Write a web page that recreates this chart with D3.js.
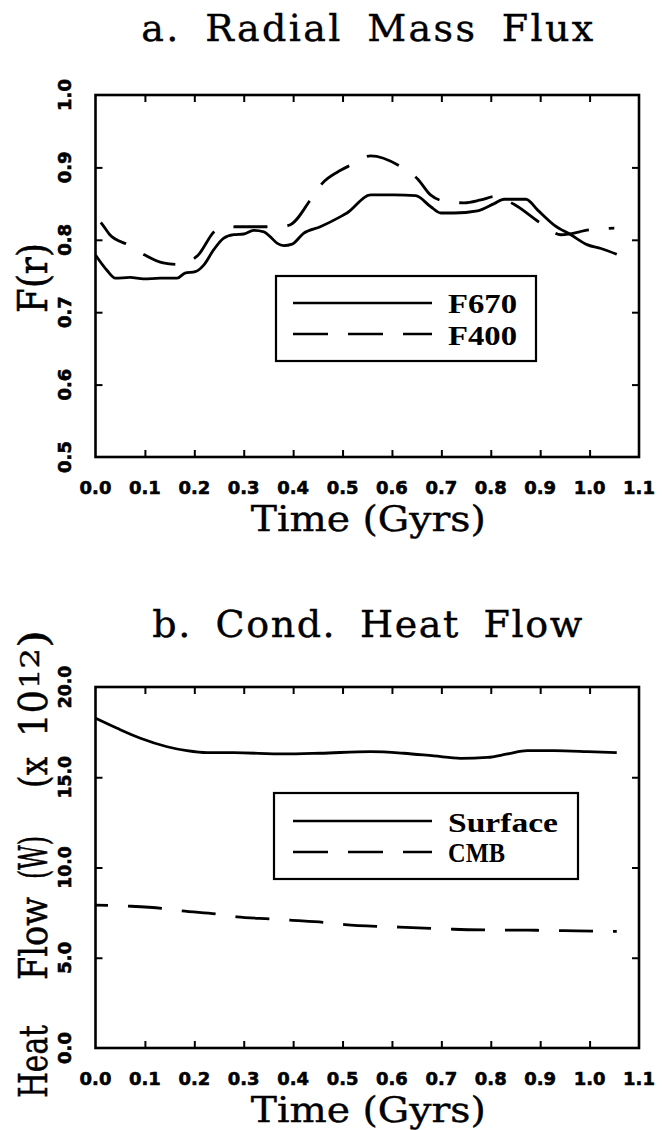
<!DOCTYPE html>
<html><head><meta charset="utf-8">
<script src="https://cdn.jsdelivr.net/npm/d3@7"></script>
<style>
html,body{margin:0;padding:0;background:#fff;}
svg{display:block;}
</style></head>
<body>
<svg id="chart" width="666" height="1130"></svg>
<script>
// ---------- data ----------
const xTicks = [0.0,0.1,0.2,0.3,0.4,0.5,0.6,0.7,0.8,0.9,1.0,1.1];
const xTickLabels = ["0.0","0.1","0.2","0.3","0.4","0.5","0.6","0.7","0.8","0.9","1.0","1.1"];
const yTicksA = [0.5,0.6,0.7,0.8,0.9,1.0];
const yTickLabelsA = ["0.5","0.6","0.7","0.8","0.9","1.0"];
const yTicksB = [0,5,10,15,20];
const yTickLabelsB = ["0.0","5.0","10.0","15.0","20.0"];

const f670Time = [0,0.023,0.04,0.07,0.097,0.131,0.165,0.181,0.202,0.219,0.239,0.259,0.28,0.30,0.32,0.341,0.354,0.368,0.381,0.398,0.421,0.455,0.496,0.509,0.557,0.604,0.648,0.678,0.699,0.726,0.773,0.807,0.827,0.871,0.895,0.929,0.962,0.996,1.023,1.055];
const f670Vals = [0.779,0.758,0.747,0.748,0.746,0.747,0.747,0.754,0.756,0.765,0.786,0.802,0.807,0.808,0.813,0.811,0.804,0.795,0.792,0.794,0.809,0.818,0.832,0.837,0.862,0.862,0.861,0.846,0.837,0.837,0.840,0.850,0.856,0.856,0.841,0.820,0.807,0.793,0.788,0.780];

const f400Time = [0,0.013,0.029,0.066,0.1,0.137,0.165,0.205,0.246,0.283,0.351,0.391,0.435,0.459,0.496,0.516,0.557,0.618,0.652,0.678,0.702,0.746,0.78,0.81,0.847,0.901,0.942,1.003,1.05];
const f400Vals = [0.832,0.822,0.807,0.793,0.779,0.768,0.766,0.777,0.814,0.818,0.818,0.820,0.855,0.878,0.896,0.903,0.916,0.901,0.884,0.862,0.854,0.851,0.855,0.860,0.849,0.823,0.807,0.814,0.816];

const surfTime = [0,0.044,0.091,0.145,0.185,0.226,0.28,0.381,0.455,0.557,0.624,0.685,0.739,0.793,0.834,0.874,0.928,0.996,1.055];
const surfVals = [18.27,17.71,17.16,16.69,16.47,16.36,16.36,16.29,16.33,16.42,16.33,16.18,16.05,16.10,16.29,16.47,16.47,16.42,16.36];

const cmbTime = [0,0.066,0.134,0.175,0.246,0.286,0.355,0.394,0.463,0.505,0.570,0.615,0.681,0.725,0.793,0.836,0.904,0.948,1.013,1.055];
const cmbVals = [7.92,7.86,7.74,7.60,7.42,7.27,7.15,7.08,6.96,6.84,6.74,6.70,6.63,6.58,6.54,6.53,6.52,6.50,6.47,6.46];

const legendA = ["F670","F400"];
const legendB = ["Surface","CMB"];

// ---------- layout ----------
const svg = d3.select("#chart");
const X0 = 95.5, X1 = 639;
const x = d3.scaleLinear().domain([0,1.1]).range([X0,X1]);
const yA = d3.scaleLinear().domain([0.5,1.0]).range([457,95]);
const yB = d3.scaleLinear().domain([0,20]).range([1048,687]);

const serif = "'DejaVu Serif', serif";
const boldSerif = "'Liberation Serif', serif";
const tickFont = "'DejaVu Sans', sans-serif";

function panel(y, yTicks, yLabels, opts) {
  const g = svg.append("g");
  const top = y.range()[1], bot = y.range()[0];
  const inner = yTicks.slice(1,-1);
  const xin = xTicks.slice(1,-1);
  const axB = g.append("g").attr("transform",`translate(0,${bot})`)
    .call(d3.axisBottom(x).tickValues(xin).tickSize(-7).tickSizeOuter(0).tickFormat(""));
  const axT = g.append("g").attr("transform",`translate(0,${top})`)
    .call(d3.axisTop(x).tickValues(xin).tickSize(-7).tickSizeOuter(0).tickFormat(""));
  const axL = g.append("g").attr("transform",`translate(${X0},0)`)
    .call(d3.axisLeft(y).tickValues(inner).tickSize(-7).tickSizeOuter(0).tickFormat(""));
  const axR = g.append("g").attr("transform",`translate(${X1},0)`)
    .call(d3.axisRight(y).tickValues(inner).tickSize(-7).tickSizeOuter(0).tickFormat(""));
  [axB,axT,axL,axR].forEach(a=>{
    a.select(".domain").remove();
    a.selectAll(".tick line").attr("stroke","#000").attr("stroke-width",2);
  });
  g.append("rect").attr("x",X0).attr("y",top).attr("width",X1-X0).attr("height",bot-top)
    .attr("fill","none").attr("stroke","#000").attr("stroke-width",2.6);

  g.selectAll(".xtl").data(xTicks).join("text")
    .attr("x",d=>x(d)).attr("y",bot+37)
    .attr("text-anchor","middle")
    .attr("textLength",(d,i)=>xTickLabels[i].length*10.6)
    .attr("lengthAdjust","spacingAndGlyphs")
    .style("font-family",tickFont).style("font-weight","bold").style("font-size","18px")
    .attr("stroke","#000").attr("stroke-width",0.6)
    .text((d,i)=>xTickLabels[i]);
  g.selectAll(".ytl").data(yTicks).join("text")
    .attr("transform",d=>`translate(71,${y(d)}) rotate(-90)`)
    .attr("text-anchor","middle")
    .attr("textLength",(d,i)=>yLabels[i].length*10.6)
    .attr("lengthAdjust","spacingAndGlyphs")
    .style("font-family",tickFont).style("font-weight","bold").style("font-size","18px")
    .attr("stroke","#000").attr("stroke-width",0.6)
    .text((d,i)=>yLabels[i]);
  g.append("text").attr("x",(X0+X1)/2).attr("y",opts.titleY)
    .attr("text-anchor","middle")
    .attr("textLength",opts.titleLen).attr("lengthAdjust","spacing")
    .style("font-family",serif).style("font-size","38px").style("word-spacing","10px")
    .attr("stroke","#000").attr("stroke-width",0.4)
    .text(opts.title);
  g.append("text").attr("x",(X0+X1)/2+1).attr("y",bot+74)
    .attr("text-anchor","middle")
    .attr("textLength",235).attr("lengthAdjust","spacingAndGlyphs")
    .style("font-family",serif).style("font-size","36px")
    .attr("stroke","#000").attr("stroke-width",0.4)
    .text("Time (Gyrs)");
  return g;
}

const gA = panel(yA, yTicksA, yTickLabelsA, {title:"a. Radial Mass Flux", titleY:41, titleLen:452});
const gB = panel(yB, yTicksB, yTickLabelsB, {title:"b. Cond. Heat Flow", titleY:637, titleLen:430});

gA.append("text").attr("transform","translate(47,313) rotate(-90)")
  .attr("textLength",70).attr("lengthAdjust","spacingAndGlyphs")
  .style("font-family",serif).style("font-size","41px")
  .attr("stroke","#000").attr("stroke-width",0.5)
  .text("F(r)");

const yLabB = [
  {t:"Heat", y0:1098, len:73},
  {t:"Flow", y0:980, len:83},
  {t:"(W)", y0:879, len:43},
  {t:"(x", y0:788, len:31},
  {t:"10", y0:737, len:47}
];
yLabB.forEach(w=>{
  gB.append("text").attr("transform",`translate(47,${w.y0}) rotate(-90)`)
    .attr("textLength",w.len).attr("lengthAdjust","spacingAndGlyphs")
    .style("font-family",serif).style("font-size","40px")
    .attr("stroke","#000").attr("stroke-width",0.5)
    .text(w.t);
});
gB.append("text").attr("transform","translate(39,689) rotate(-90)")
  .attr("textLength",41).attr("lengthAdjust","spacingAndGlyphs")
  .style("font-family",serif).style("font-size","26px")
  .attr("stroke","#000").attr("stroke-width",0.4)
  .text("12");
gB.append("text").attr("transform","translate(47,648) rotate(-90)")
  .attr("textLength",18).attr("lengthAdjust","spacingAndGlyphs")
  .style("font-family",serif).style("font-size","40px")
  .attr("stroke","#000").attr("stroke-width",0.5)
  .text(")");

function drawLine(g, ts, vs, y, dashed, offset) {
  const line = d3.line().x(d=>x(d[0])).y(d=>y(d[1])).curve(d3.curveMonotoneX);
  const p = g.append("path").datum(ts.map((t,i)=>[t,vs[i]]))
    .attr("d",line).attr("fill","none").attr("stroke","#000").attr("stroke-width",2.8)
    .attr("stroke-linejoin","round");
  if (dashed) p.attr("stroke-dasharray","34,20").attr("stroke-dashoffset",offset);
}
drawLine(gA, f670Time, f670Vals, yA, false);
drawLine(gA, f400Time, f400Vals, yA, true, 46);
drawLine(gB, surfTime, surfVals, yB, false);
drawLine(gB, cmbTime, cmbVals, yB, true, 21.5);

function legend(g, names, box, rows) {
  g.append("rect").attr("x",box[0]).attr("y",box[1]).attr("width",box[2]-box[0]).attr("height",box[3]-box[1])
    .attr("fill","#fff").attr("stroke","#000").attr("stroke-width",2.2);
  names.forEach((n,i)=>{
    g.append("line").attr("x1",293).attr("x2",432).attr("y1",rows[i].ly).attr("y2",rows[i].ly)
      .attr("stroke","#000").attr("stroke-width",2.4)
      .attr("stroke-dasharray", i===1 ? "35,20" : null);
    g.append("text").attr("x",448).attr("y",rows[i].ty)
      .attr("textLength",rows[i].len).attr("lengthAdjust","spacingAndGlyphs")
      .style("font-family",boldSerif).style("font-weight","bold").style("font-size","27px")
      .text(n);
  });
}
legend(gA, legendA, [276,276,536,361], [{ly:303,ty:313,len:69},{ly:334,ty:345,len:69}]);
legend(gB, legendB, [274,793,578,879], [{ly:821,ty:832,len:110},{ly:852,ty:862,len:57}]);
</script>
</body></html>
